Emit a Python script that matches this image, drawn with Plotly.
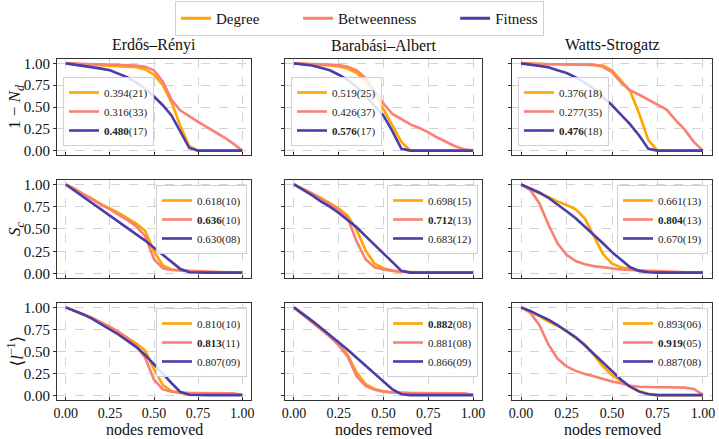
import plotly.graph_objects as go
from plotly.subplots import make_subplots

# ---------------- data ----------------
removed = [0.00, 0.05, 0.10, 0.15, 0.20, 0.25, 0.30, 0.35, 0.40, 0.45, 0.50,
           0.55, 0.60, 0.65, 0.70, 0.75, 0.80, 0.85, 0.90, 0.95, 1.00]

networks = ["Erdős–Rényi", "Barabási–Albert", "Watts-Strogatz"]
metrics = ["1 − <i>N</i><sub><i>d</i></sub>", "<i>S</i><sub><i>c</i></sub>", "⟨<i>l</i><sup>−1</sup>⟩"]
x_label = "nodes removed"
strategies = ["Degree", "Betweenness", "Fitness"]
colors = ["#FFA500", "#FA8072", "#4B3CA7"]

# Row 1: 1 - N_d
er_nd_degree = [1, .995, .99, .985, .98, .975, .97, .965, .955, .93, .87, .75, .55, .28, .05, 0, 0, 0, 0, 0, 0]
er_nd_betw = [1, .995, .99, .99, .99, .985, .985, .98, .975, .96, .92, .79, .58, .46, .39, .33, .27, .21, .15, .08, 0]
er_nd_fit = [1, .985, .975, .96, .94, .92, .88, .84, .78, .71, .62, .52, .40, .22, .03, 0, 0, 0, 0, 0, 0]

ba_nd_degree = [1, .995, .99, .985, .975, .965, .94, .89, .80, .66, .47, .29, .10, 0, 0, 0, 0, 0, 0, 0, 0]
ba_nd_betw = [1, .995, .99, .99, .985, .98, .96, .92, .83, .68, .54, .42, .36, .30, .26, .21, .15, .10, .05, .015, 0]
ba_nd_fit = [1, .99, .975, .95, .92, .87, .81, .73, .63, .51, .40, .22, .02, 0, 0, 0, 0, 0, 0, 0, 0]

ws_nd_degree = [1, .995, .99, .99, .99, .99, .99, .985, .98, .975, .92, .80, .68, .42, .12, 0, 0, 0, 0, 0, 0]
ws_nd_betw = [1, .995, .99, .99, .99, .99, .99, .99, .985, .96, .90, .78, .69, .64, .58, .53, .47, .35, .24, .10, 0]
ws_nd_fit = [1, .985, .97, .955, .92, .89, .84, .78, .71, .62, .52, .41, .30, .17, .02, 0, 0, 0, 0, 0, 0]

# Row 2: S_c
er_sc_degree = [1, .95, .89, .84, .78, .73, .68, .62, .56, .48, .25, .09, .045, .035, .025, .02, .015, .012, .01, .01, .01]
er_sc_betw = [1, .95, .89, .83, .77, .72, .66, .60, .53, .42, .16, .06, .04, .035, .03, .025, .02, .015, .01, .01, .01]
er_sc_fit = [1, .93, .86, .79, .72, .66, .59, .52, .45, .37, .29, .21, .13, .05, .015, .01, .01, .01, .01, .01, .01]

ba_sc_degree = [1, .95, .90, .85, .79, .73, .65, .49, .26, .11, .06, .035, .02, .015, .015, .012, .01, .01, .01, .01, .01]
ba_sc_betw = [1, .95, .90, .84, .78, .71, .62, .36, .16, .07, .045, .03, .02, .015, .015, .012, .01, .01, .01, .01, .01]
ba_sc_fit = [1, .94, .88, .81, .75, .68, .60, .52, .42, .32, .22, .12, .03, .01, .01, .01, .01, .01, .01, .01, .01]

ws_sc_degree = [1, .95, .90, .86, .81, .77, .72, .62, .42, .22, .11, .07, .05, .03, .02, .015, .015, .012, .01, .01, .01]
ws_sc_betw = [1, .94, .79, .55, .34, .21, .14, .105, .083, .068, .057, .045, .04, .035, .03, .025, .02, .018, .015, .012, .01]
ws_sc_fit = [1, .955, .91, .85, .78, .70, .62, .53, .43, .34, .24, .15, .07, .03, .015, .01, .01, .01, .01, .01, .01]

# Row 3: <l^-1>
er_l_degree = [1, .96, .92, .88, .83, .78, .72, .66, .59, .51, .30, .12, .05, .03, .025, .02, .02, .02, .015, .015, .01]
er_l_betw = [1, .96, .92, .88, .83, .78, .72, .65, .56, .43, .18, .07, .045, .035, .03, .03, .03, .03, .03, .025, .01]
er_l_fit = [1, .96, .92, .87, .81, .75, .69, .62, .55, .46, .36, .25, .14, .04, .01, .005, .005, .005, .005, .005, .005]

ba_l_degree = [1, .92, .84, .76, .67, .58, .46, .26, .13, .075, .05, .035, .03, .025, .025, .02, .02, .02, .02, .02, .01]
ba_l_betw = [1, .92, .84, .76, .67, .57, .44, .22, .11, .065, .045, .035, .03, .03, .03, .03, .03, .03, .025, .025, .01]
ba_l_fit = [1, .93, .85, .77, .69, .60, .52, .43, .34, .25, .16, .07, .015, .005, .005, .005, .005, .005, .005, .005, .005]

ws_l_degree = [1, .95, .90, .84, .79, .73, .66, .58, .46, .33, .23, .16, .10, .05, .02, .005, .005, .005, .005, .005, .005]
ws_l_betw = [1, .94, .80, .58, .42, .33, .28, .245, .22, .19, .16, .14, .11, .10, .095, .095, .095, .095, .09, .075, .01]
ws_l_fit = [1, .96, .91, .86, .80, .73, .66, .57, .47, .37, .27, .18, .10, .045, .015, .005, .005, .005, .005, .005, .005]

# inset legend labels (score(error)), best in bold
er_nd_labels = ["0.394(21)", "0.316(33)", "<b>0.480</b>(17)"]
ba_nd_labels = ["0.519(25)", "0.426(37)", "<b>0.576</b>(17)"]
ws_nd_labels = ["0.376(18)", "0.277(35)", "<b>0.476</b>(18)"]
er_sc_labels = ["0.618(10)", "<b>0.636</b>(10)", "0.630(08)"]
ba_sc_labels = ["0.698(15)", "<b>0.712</b>(13)", "0.683(12)"]
ws_sc_labels = ["0.661(13)", "<b>0.804</b>(13)", "0.670(19)"]
er_l_labels = ["0.810(10)", "<b>0.813</b>(11)", "0.807(09)"]
ba_l_labels = ["<b>0.882</b>(08)", "0.881(08)", "0.866(09)"]
ws_l_labels = ["0.893(06)", "<b>0.919</b>(05)", "0.887(08)"]

x_ticks = [0, 0.25, 0.5, 0.75, 1.0]
x_ticktext = ["0.00", "0.25", "0.50", "0.75", "1.00"]
y_ticks = [0, 0.25, 0.5, 0.75, 1.0]
y_ticktext = ["0.00", "0.25", "0.50", "0.75", "1.00"]

panels = {
    (1, 1): (er_nd_degree, er_nd_betw, er_nd_fit, er_nd_labels),
    (1, 2): (ba_nd_degree, ba_nd_betw, ba_nd_fit, ba_nd_labels),
    (1, 3): (ws_nd_degree, ws_nd_betw, ws_nd_fit, ws_nd_labels),
    (2, 1): (er_sc_degree, er_sc_betw, er_sc_fit, er_sc_labels),
    (2, 2): (ba_sc_degree, ba_sc_betw, ba_sc_fit, ba_sc_labels),
    (2, 3): (ws_sc_degree, ws_sc_betw, ws_sc_fit, ws_sc_labels),
    (3, 1): (er_l_degree, er_l_betw, er_l_fit, er_l_labels),
    (3, 2): (ba_l_degree, ba_l_betw, ba_l_fit, ba_l_labels),
    (3, 3): (ws_l_degree, ws_l_betw, ws_l_fit, ws_l_labels),
}

# ---------------- layout geometry ----------------
FONT = "Liberation Serif, DejaVu Serif, serif"
W, H = 719, 439
ML, MR, MT, MB = 57, 7, 59, 39
PW, PH = W - ML - MR, H - MT - MB
col_dom = [[0.0, 0.2962], [0.3481, 0.6489], [0.6947, 1.0]]
row_dom = [[0.7185, 1.0], [0.3578, 0.6452], [0.0, 0.2845]]

fig = make_subplots(rows=3, cols=3)

# main legend entries (placeholder traces)
pad = "\u00a0"
main_names = ["Degree" + pad * 9, "Betweenness" + pad * 9, "Fitness"]
for name, col in zip(main_names, colors):
    fig.add_trace(go.Scatter(x=[None], y=[None], mode="lines", name=name,
                             line=dict(color=col, width=3), legend="legend",
                             showlegend=True), row=1, col=1)

annotations = []
for (r, c), (d, b, f, labels) in panels.items():
    k = (r - 1) * 3 + c
    lg = f"legend{k + 1}"
    for ys, col, lab in zip((d, b, f), colors, labels):
        fig.add_trace(go.Scatter(x=removed, y=ys, mode="lines", name=lab,
                                 line=dict(color=col, width=2.6),
                                 legend=lg, showlegend=True), row=r, col=c)
    xd, yd = col_dom[c - 1], row_dom[r - 1]
    if r == 1:
        lpos = dict(x=xd[0] + 6 / PW, y=yd[0] + 9 / PH, xanchor="left", yanchor="bottom")
    else:
        lpos = dict(x=xd[1] - 4 / PW, y=yd[1] - 5 / PH, xanchor="right", yanchor="top")
    fig.update_layout(**{lg: dict(**lpos, xref="paper", yref="paper",
                                  bgcolor="rgba(255,255,255,0.85)", bordercolor="#d0d0d0",
                                  borderwidth=1, font=dict(family=FONT, size=11, color="#222"),
                                  traceorder="normal", tracegroupgap=0)})
    fig.update_xaxes(row=r, col=c, domain=xd, range=[-0.05, 1.05],
                     tickvals=x_ticks, ticktext=x_ticktext, showticklabels=(r == 3),
                     showline=True, mirror=True, linecolor="#333", linewidth=1.2,
                     ticks="inside", ticklen=3, tickcolor="#333",
                     showgrid=True, gridcolor="#d3d3d3", griddash="dash", gridwidth=1,
                     zeroline=False, tickfont=dict(family=FONT, size=14, color="#111"))
    fig.update_yaxes(row=r, col=c, domain=yd, range=[-0.05, 1.05],
                     tickvals=y_ticks, ticktext=y_ticktext, showticklabels=(c == 1),
                     showline=True, mirror=True, linecolor="#333", linewidth=1.2,
                     ticks="outside", ticklen=3, tickcolor="#333",
                     showgrid=True, gridcolor="#d3d3d3", griddash="dash", gridwidth=1,
                     zeroline=False, tickfont=dict(family=FONT, size=15, color="#111"))
    if r == 3:
        annotations.append(dict(text=x_label, x=(xd[0] + xd[1]) / 2, y=-(429 - (H - MB)) / PH,
                                xref="paper", yref="paper", xanchor="center", yanchor="middle",
                                showarrow=False, font=dict(family=FONT, size=16, color="#111")))
    if c == 1:
        annotations.append(dict(text=metrics[r - 1], x=-(ML - 16) / PW, y=(yd[0] + yd[1]) / 2,
                                xref="paper", yref="paper", xanchor="center", yanchor="middle",
                                textangle=-90, showarrow=False,
                                font=dict(family=FONT, size=17, color="#111")))

for c, name in enumerate(networks):
    xd = col_dom[c]
    annotations.append(dict(text=name, x=(xd[0] + xd[1]) / 2, y=1.0, xref="paper", yref="paper",
                            xanchor="center", yanchor="bottom", yshift=3, showarrow=False,
                            font=dict(family=FONT, size=16, color="#111")))

fig.update_layout(
    width=W, height=H,
    margin=dict(l=ML, r=MR, t=MT, b=MB, autoexpand=False),
    plot_bgcolor="white", paper_bgcolor="white",
    font=dict(family=FONT, color="#111"),
    annotations=annotations,
    legend=dict(orientation="h", xref="paper", yref="paper", x=(W / 2 - ML) / PW, y=1 + (MT - 1) / PH,
                xanchor="center", yanchor="top", bgcolor="white", bordercolor="#d0d0d0",
                borderwidth=1, font=dict(family=FONT, size=15, color="#111")),
    showlegend=True,
)

fig.write_html("out.html", config={"displayModeBar": False},
               post_script="document.body.style.margin='0px';document.body.style.overflow='hidden';")
